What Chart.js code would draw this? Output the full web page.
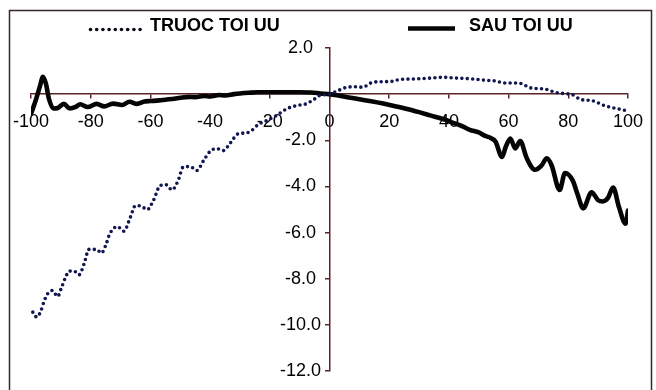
<!DOCTYPE html>
<html>
<head>
<meta charset="utf-8">
<script src="https://cdn.jsdelivr.net/npm/chart.js@4.4.1/dist/chart.umd.min.js"></script>
<style>
  html, body { margin: 0; padding: 0; background: #ffffff; }
  #wrap { position: relative; width: 656px; height: 390px; }
</style>
</head>
<body>
<div id="wrap"><canvas id="c" width="656" height="390"></canvas></div>
<script>
// Series before optimisation (dotted)
const truocX = [-99.4, -98.1, -96.7, -95.6, -94.4, -92.8, -91.1, -89.8, -88.3, -87.2, -85.6, -83.9,
  -82.2, -80.6, -78.0, -76.4, -75.0, -73.6, -71.1, -68.9, -66.7, -65.0, -62.8, -61.1, -58.9, -56.7,
  -54.7, -52.8, -50.6, -49.1, -46.7, -44.4, -42.2, -40.0, -37.8, -35.6, -33.3, -30.6, -27.8, -26.1,
  -23.9, -21.1, -17.8, -14.4, -11.1, -7.8, -5.0, -3.3, 0, 2.8, 5.6, 8.9, 11.1, 14.4, 17.8, 20.6,
  23.3, 28.9, 34.4, 37.8, 43.3, 47.8, 52.2, 55.6, 58.9, 63.3, 67.8, 72.2, 75.6, 78.9, 81.1, 84.4,
  87.8, 92.2, 96.7, 99.4];
const truocY = [-9.45, -9.66, -9.40, -8.97, -8.65, -8.51, -8.77, -8.39, -7.90, -7.67, -7.67, -7.83,
  -7.35, -6.73, -6.73, -6.89, -6.56, -6.05, -5.74, -5.94, -5.33, -4.83, -4.87, -5.01, -4.58, -3.96,
  -3.93, -4.15, -3.71, -3.17, -3.14, -3.31, -2.88, -2.48, -2.36, -2.45, -2.13, -1.72, -1.68, -1.58,
  -1.32, -1.15, -0.93, -0.64, -0.50, -0.42, -0.21, -0.06, 0, 0.15, 0.29, 0.32, 0.30, 0.51, 0.54, 0.55,
  0.63, 0.66, 0.70, 0.73, 0.69, 0.66, 0.60, 0.57, 0.48, 0.48, 0.26, 0.22, 0.08, 0.02, -0.01, -0.24,
  -0.28, -0.50, -0.64, -0.71];

// Series after optimisation (solid)
const sauX = [-100, -98.5, -97, -96, -95, -94, -92.5, -91, -89, -87, -85, -83.5, -81, -78, -75.5,
  -72.5, -69.5, -67, -64.5, -62, -60, -57, -55, -52, -50, -47, -45, -42, -40, -37, -35, -32, -30,
  -27, -24, -20, -15, -10, -6, -3, 0, 3, 6, 10, 14, 18, 22, 26, 30, 34, 38, 41, 44, 47, 50, 52, 54,
  55.6, 57.8, 59, 60.6, 62.2, 63.9, 66, 68.9, 71, 72.8, 74.4, 77.1, 78.9, 81.5, 83, 85, 87.8, 90,
  91.5, 93.3, 95, 97, 99.2, 100];
const sauY = [-0.85, -0.3, 0.35, 0.75, 0.45, -0.2, -0.62, -0.6, -0.42, -0.62, -0.55, -0.44, -0.56,
  -0.42, -0.53, -0.41, -0.47, -0.33, -0.42, -0.32, -0.30, -0.27, -0.24, -0.20, -0.16, -0.12, -0.13,
  -0.08, -0.10, -0.04, -0.06, 0.0, 0.03, 0.06, 0.08, 0.08, 0.08, 0.08, 0.07, 0.03, 0, -0.06, -0.13,
  -0.22, -0.31, -0.41, -0.52, -0.64, -0.78, -0.93, -1.08, -1.22, -1.36, -1.55, -1.66, -1.80, -1.90,
  -2.05, -2.72, -2.30, -1.92, -2.35, -2.03, -2.75, -3.28, -3.10, -2.78, -3.08, -4.15, -3.42, -3.75,
  -4.30, -4.95, -4.25, -4.60, -4.65, -4.50, -4.05, -4.90, -5.62, -5.05];

const seriesNames = ['TRUOC TOI UU', 'SAU TOI UU'];
const xTicks = [-100, -80, -60, -40, -20, 0, 20, 40, 60, 80, 100];
const yTicks = [2, 0, -2, -4, -6, -8, -10, -12];

const axisColor = '#5a2424';
const frameColor = '#3a2626';
const dotColor = '#10164f';
const lineColor = '#050505';
const FONT = '"Liberation Sans", Arial, sans-serif';

const toPoints = (xs, ys) => xs.map((x, i) => ({ x, y: ys[i] }));

// Background, y label placement, outer frame and legend
const decor = {
  id: 'decor',
  beforeDraw(chart) {
    const ctx = chart.ctx;
    ctx.save();
    ctx.fillStyle = '#ffffff';
    ctx.fillRect(0, 0, chart.width, chart.height);
    ctx.restore();

    // value labels of the vertical axis sit centred in a column left of the axis line
    const yScale = chart.scales.y;
    const axisX = chart.scales.x.getPixelForValue(0);
    yScale.getLabelItems(chart.chartArea).forEach((item) => {
      item.options.textAlign = 'center';
      item.options.translation[0] = axisX - 29;
    });
  },
  afterDraw(chart) {
    const ctx = chart.ctx;
    ctx.save();
    ctx.strokeStyle = frameColor;
    ctx.lineWidth = 1.5;
    ctx.strokeRect(9.5, 10.5, 642, 400);

    // dotted marker
    ctx.fillStyle = '#0a0a14';
    for (let i = 0; i < 9; i++) {
      ctx.beginPath();
      ctx.arc(90.5 + i * 6.2, 29.5, 1.8, 0, Math.PI * 2);
      ctx.fill();
    }
    ctx.fillStyle = '#000000';
    ctx.font = 'bold 18px ' + FONT;
    ctx.textBaseline = 'alphabetic';
    ctx.textAlign = 'left';
    ctx.fillText(seriesNames[0], 150, 31);

    // solid marker
    ctx.strokeStyle = lineColor;
    ctx.lineWidth = 4.5;
    ctx.beginPath();
    ctx.moveTo(408, 28.5);
    ctx.lineTo(455, 28.5);
    ctx.stroke();
    ctx.fillText(seriesNames[1], 469, 31);
    ctx.restore();
  }
};

new Chart(document.getElementById('c'), {
  type: 'line',
  data: {
    datasets: [
      {
        label: seriesNames[0],
        data: toPoints(truocX, truocY),
        borderColor: dotColor,
        borderWidth: 3.6,
        borderDash: [0, 5.4],
        borderCapStyle: 'round',
        pointRadius: 0,
        cubicInterpolationMode: 'monotone',
        fill: false
      },
      {
        label: seriesNames[1],
        data: toPoints(sauX, sauY),
        borderColor: lineColor,
        borderWidth: 4.6,
        borderJoinStyle: 'round',
        borderCapStyle: 'round',
        pointRadius: 0,
        cubicInterpolationMode: 'monotone',
        fill: false
      }
    ]
  },
  options: {
    responsive: true,
    maintainAspectRatio: false,
    animation: false,
    devicePixelRatio: 1,
    layout: { padding: { left: 30, right: 26, top: 48, bottom: 19 } },
    plugins: { legend: { display: false }, tooltip: { enabled: false } },
    scales: {
      x: {
        type: 'linear',
        position: { y: 0 },
        min: -100,
        max: 100,
        afterBuildTicks: (s) => { s.ticks = xTicks.map(v => ({ value: v })); },
        ticks: {
          color: '#000000',
          font: { family: FONT, size: 18 },
          padding: 13,
          maxRotation: 0,
          autoSkip: false,
          callback: (v) => String(v)
        },
        grid: { drawOnChartArea: false, drawTicks: true, tickLength: 4, color: axisColor, lineWidth: 1.5 },
        border: { display: true, color: axisColor, width: 1.5 }
      },
      y: {
        type: 'linear',
        position: { x: 0 },
        min: -12,
        max: 2,
        afterBuildTicks: (s) => { s.ticks = yTicks.map(v => ({ value: v })); },
        ticks: {
          color: '#000000',
          font: { family: FONT, size: 18 },
          autoSkip: false,
          callback: (v) => (v === 0 ? '' : v.toFixed(1))
        },
        grid: { drawOnChartArea: false, drawTicks: true, tickLength: 4, color: axisColor, lineWidth: 1.5 },
        border: { display: true, color: axisColor, width: 1.5 }
      }
    }
  },
  plugins: [decor]
});
</script>
</body>
</html>
